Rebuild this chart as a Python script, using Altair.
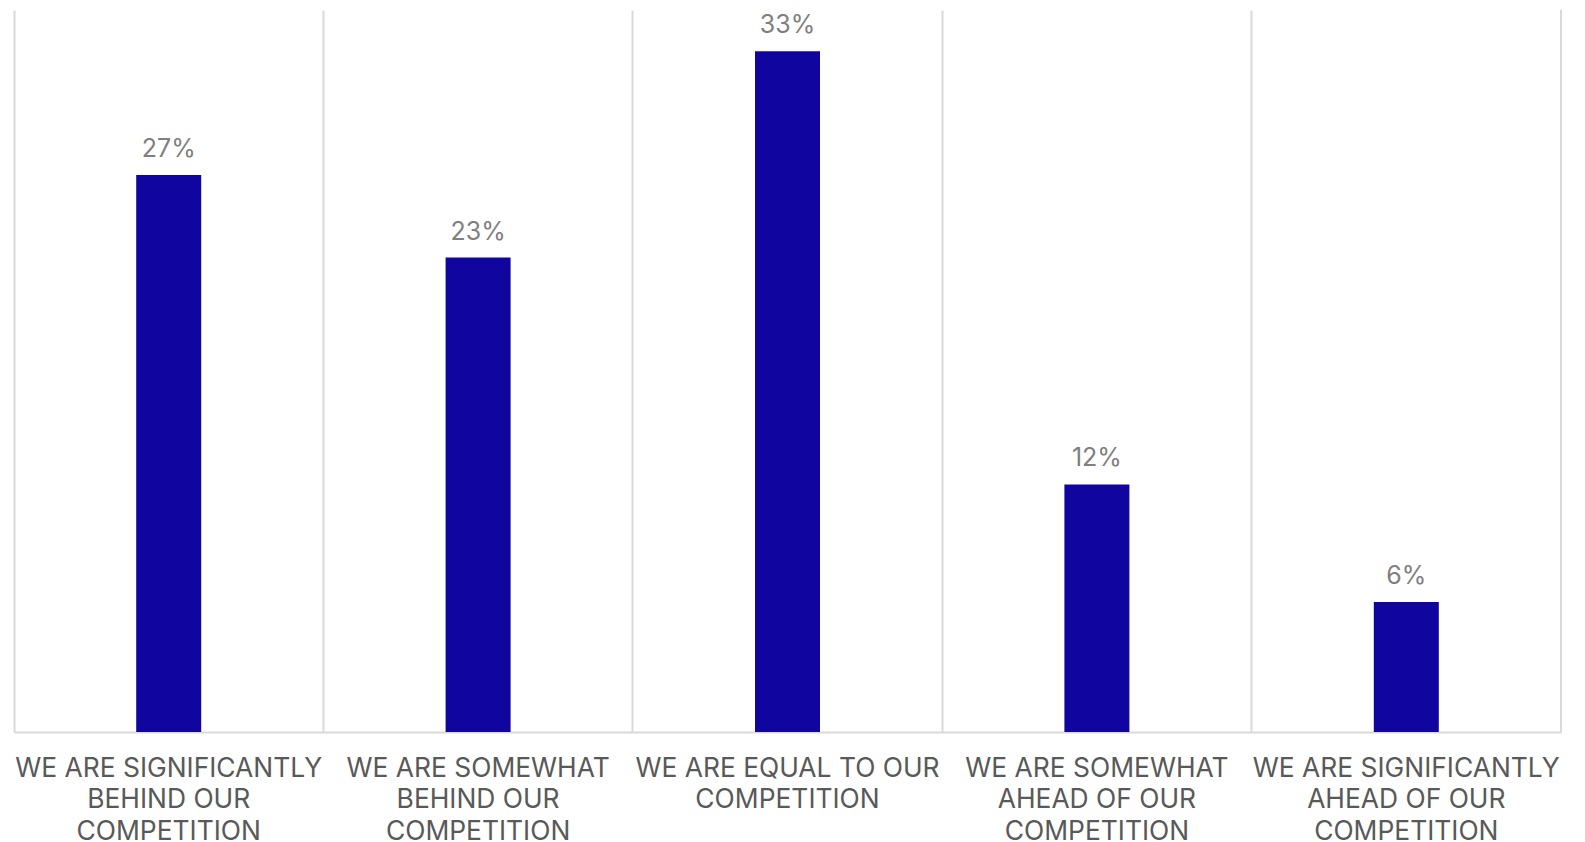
import altair as alt
import pandas as pd

categories = [
    "WE ARE SIGNIFICANTLY\nBEHIND OUR\nCOMPETITION",
    "WE ARE SOMEWHAT\nBEHIND OUR\nCOMPETITION",
    "WE ARE EQUAL TO OUR\nCOMPETITION",
    "WE ARE SOMEWHAT\nAHEAD OF OUR\nCOMPETITION",
    "WE ARE SIGNIFICANTLY\nAHEAD OF OUR\nCOMPETITION",
]
values = [27, 23, 33, 12, 6.3]
labels = ["27%", "23%", "33%", "12%", "6%"]

df = pd.DataFrame({"cat": categories, "val": values, "lab": labels})

W, H = 1547, 722
FONT = "Inter"

x = alt.X("cat:N", sort=categories, title=None,
          scale=alt.Scale(paddingInner=0, paddingOuter=0),
          axis=alt.Axis(labelAngle=0, labelExpr="split(datum.value, '\\n')",
                        labelFont=FONT, labelFontSize=26.4, labelColor="#595959",
                        labelLineHeight=31.7, labelPadding=23, labelLimit=400,
                        ticks=False, domain=True, domainColor="#d9d9d9", domainWidth=2,
                        grid=True, gridColor="#d9d9d9", gridWidth=2, bandPosition=0))
y = alt.Y("val:Q", scale=alt.Scale(domain=[0, 35]), axis=None)

bars = alt.Chart(df).mark_bar(color="#10069F", width=65).encode(x=x, y=y)
text = alt.Chart(df).mark_text(dy=-18, baseline="alphabetic", font=FONT, fontSize=25,
                               color="#7f7f7f").encode(x=alt.X("cat:N", sort=categories), y=y, text="lab:N")
edge = alt.Chart(df).mark_rule(color="#d9d9d9", strokeWidth=2).encode(
    x=alt.value(W), x2=alt.value(W), y=alt.value(0), y2=alt.value(H))

chart = alt.layer(bars, text, edge).properties(
    width=W, height=H,
    background="white",
    autosize=alt.AutoSizeParams(type="none"),
    padding={"left": 14, "top": 10, "right": 24, "bottom": 110},
).configure_view(strokeWidth=0, stroke="transparent")

chart.save("out.html", embed_options={"renderer": "svg", "actions": False})
